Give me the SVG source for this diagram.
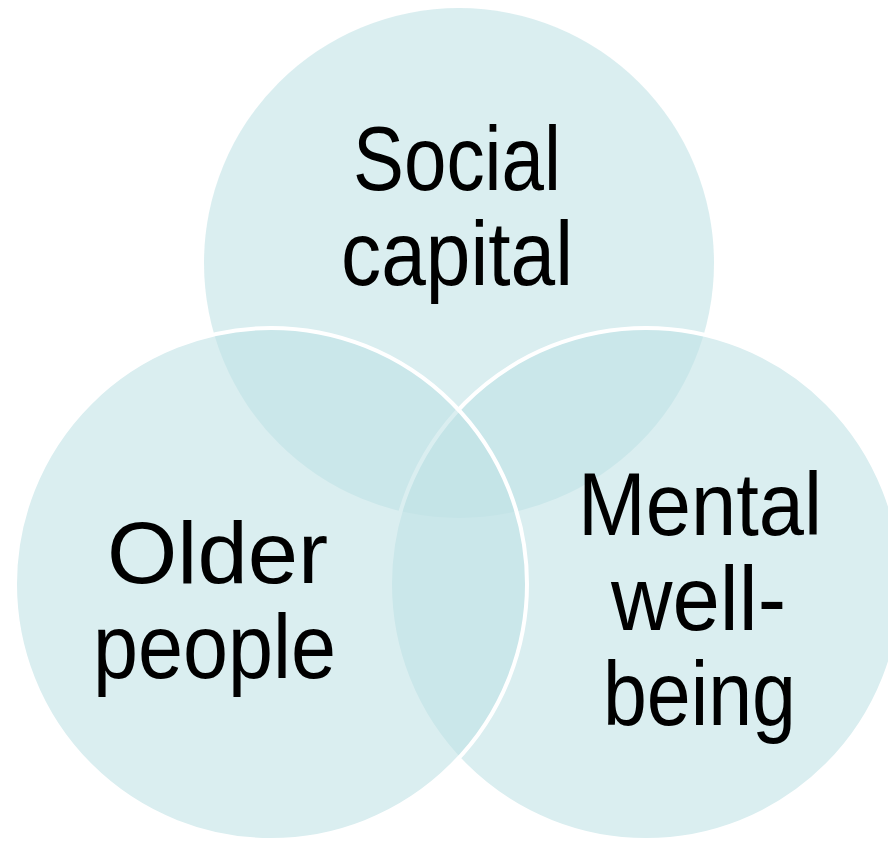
<svg xmlns="http://www.w3.org/2000/svg" width="888" height="843" viewBox="0 0 888 843">
<style>
.c{fill:rgb(192,226,229);fill-opacity:0.58}
.s{stroke:#ffffff;stroke-width:4}
.t{font-family:"Liberation Sans",Arial,sans-serif;fill:#000;text-anchor:start}
.n{font-family:"Liberation Sans Narrow","Liberation Sans",Arial,sans-serif}
</style>
<rect width="888" height="843" fill="#ffffff"/>
<g id="social-capital">
<circle class="c" cx="459" cy="263" r="255"/>
</g>
<g id="mental-wellbeing">
<circle class="c s" cx="646" cy="584" r="256"/>
</g>
<g id="older-people">
<circle class="c s" cx="271" cy="584" r="256"/>
</g>
<g id="connectors"></g>
<g id="labels">
<text class="t n" x="353" y="190" font-size="91" textLength="208" lengthAdjust="spacingAndGlyphs">Social</text>
<text class="t n" x="341" y="285" font-size="91" textLength="232" lengthAdjust="spacingAndGlyphs">capital</text>
<text class="t" x="107" y="583" font-size="88" textLength="221" lengthAdjust="spacingAndGlyphs">Older</text>
<text class="t" x="93" y="678" font-size="91" textLength="243" lengthAdjust="spacingAndGlyphs">people</text>
<text class="t n" x="578" y="535" font-size="89" textLength="244" lengthAdjust="spacingAndGlyphs">Mental</text>
<text class="t n" x="611" y="630" font-size="91" textLength="175" lengthAdjust="spacingAndGlyphs">well-</text>
<text class="t n" x="603" y="725" font-size="91" textLength="193" lengthAdjust="spacingAndGlyphs">being</text>
</g>
</svg>
